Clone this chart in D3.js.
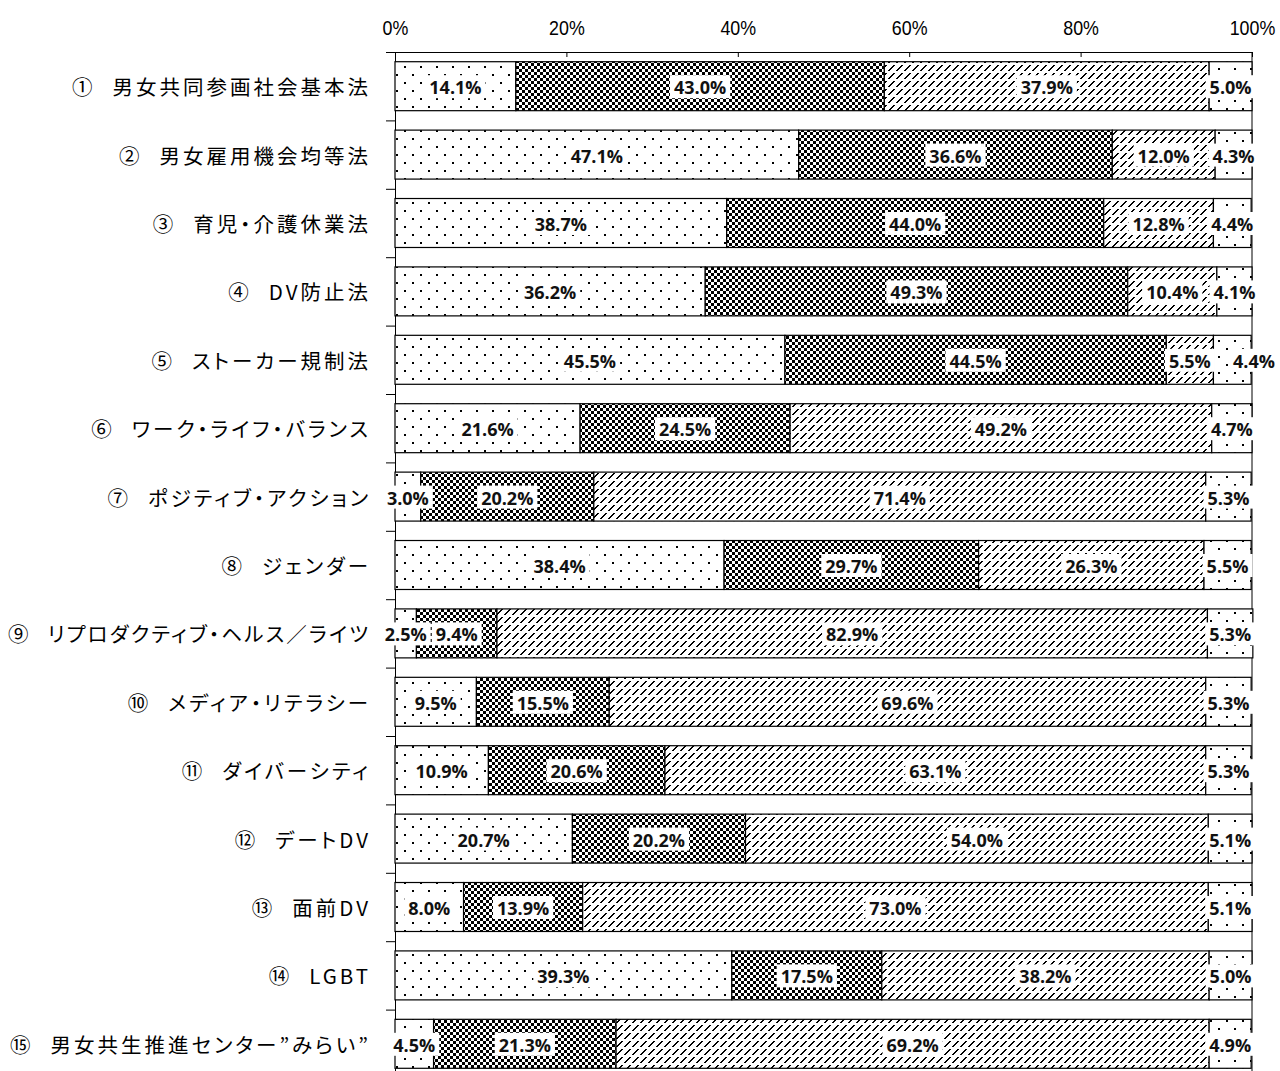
<!DOCTYPE html>
<html><head><meta charset="utf-8">
<script src="https://cdn.jsdelivr.net/npm/d3@7"></script>
<style>
html,body{margin:0;padding:0;background:#fff;}
#wrap{position:relative;width:1280px;height:1071px;overflow:hidden;}
svg{display:block;position:absolute;left:0;top:0;}
.cat{position:absolute;white-space:nowrap;font-family:"Noto Sans CJK JP",sans-serif;font-size:20.5px;line-height:26px;letter-spacing:3px;font-feature-settings:"palt" 1;color:#000;}
.cat .nm{margin-left:17px;}
.tick text{font-family:"Liberation Sans",Arial,sans-serif;font-size:21px;fill:#000;}
.lbl{font-family:"Open Sans",sans-serif;font-weight:700;font-size:18px;fill:#111;}
</style></head>
<body>
<div id="wrap"><svg id="c" width="1280" height="1071"></svg></div>
<script>
const nums = ["①","②","③","④","⑤","⑥","⑦","⑧","⑨","⑩","⑪","⑫","⑬","⑭","⑮"];
const categories = ["男女共同参画社会基本法","男女雇用機会均等法","育児・介護休業法","DV防止法","ストーカー規制法","ワーク・ライフ・バランス","ポジティブ・アクション","ジェンダー","リプロダクティブ・ヘルス／ライツ","メディア・リテラシー","ダイバーシティ","デートDV","面前DV","LGBT","男女共生推進センター”みらい”"];
const s1 = [14.1,47.1,38.7,36.2,45.5,21.6,3.0,38.4,2.5,9.5,10.9,20.7,8.0,39.3,4.5];
const s2 = [43.0,36.6,44.0,49.3,44.5,24.5,20.2,29.7,9.4,15.5,20.6,20.2,13.9,17.5,21.3];
const s3 = [37.9,12.0,12.8,10.4,5.5,49.2,71.4,26.3,82.9,69.6,63.1,54.0,73.0,38.2,69.2];
const s4 = [5.0,4.3,4.4,4.1,4.4,4.7,5.3,5.5,5.3,5.3,5.3,5.1,5.1,5.0,4.9];
const xTicks = [0,20,40,60,80,100];

const svg = d3.select("#c");
const defs = svg.append("defs");
function dots(id, size, pts){
  const p = defs.append("pattern").attr("id",id).attr("patternUnits","userSpaceOnUse").attr("width",size).attr("height",size);
  p.append("rect").attr("width",size).attr("height",size).attr("fill","#fff");
  pts.forEach(([a,b])=>p.append("rect").attr("x",a).attr("y",b).attr("width",2).attr("height",2).attr("fill","#000"));
}
dots("p1",16,[[4,2],[12,10]]);
dots("p4",16,[[2,4],[10,12]]);
{
  const p = defs.append("pattern").attr("id","p2").attr("patternUnits","userSpaceOnUse").attr("width",6).attr("height",6);
  p.append("rect").attr("width",6).attr("height",6).attr("fill","#fff");
  p.append("rect").attr("width",3).attr("height",3).attr("fill","#000");
  p.append("rect").attr("x",3).attr("y",3).attr("width",3).attr("height",3).attr("fill","#000");
}
{
  const p = defs.append("pattern").attr("id","p3").attr("patternUnits","userSpaceOnUse").attr("width",8).attr("height",8);
  p.append("rect").attr("width",8).attr("height",8).attr("fill","#fff");
  [[0,6],[1,5],[2,4],[3,3],[4,2],[5,1]].forEach(([a,b])=>p.append("rect").attr("x",a).attr("y",b).attr("width",2).attr("height",1).attr("fill","#000"));
}
const fills = ["url(#p1)","url(#p2)","url(#p3)","url(#p4)"];

const x = d3.scaleLinear().domain([0,100]).range([395,1252]);
const idx = d3.range(categories.length);
const y = d3.scaleBand().domain(idx).range([52,1078]).paddingInner(0.284).paddingOuter(0.142);
const yi = d3.scaleLinear().domain([0,categories.length]).range([52,1078]);

const ax = svg.append("g").attr("transform","translate(0,52)")
  .call(d3.axisTop(x).tickValues(xTicks).tickFormat(d=>d+"%").tickSizeInner(-5).tickSizeOuter(0).tickPadding(17));
ax.select(".domain").attr("stroke","#000");
ax.selectAll(".tick line").attr("stroke","#000");
ax.selectAll(".tick text").attr("transform","scale(0.85,1)");
const ay = svg.append("g").attr("transform","translate(395,0)")
  .call(d3.axisLeft(yi).tickValues(d3.range(categories.length+1)).tickFormat("").tickSizeInner(9).tickSizeOuter(0));
ay.select(".domain").attr("stroke","#000");
ay.selectAll(".tick line").attr("stroke","#000");
svg.append("line").attr("x1",x(100)).attr("x2",x(100)).attr("y1",52).attr("y2",1078).attr("stroke","#000");

const series = [s1,s2,s3,s4];
const rows = idx.map(i=>{ let c=0; return series.map((s,k)=>{ const d={i,k,v:s[i],x0:c,x1:c+s[i]}; c+=s[i]; return d;}); });

const g = svg.append("g");
rows.forEach(r=>{
  g.selectAll(null).data(r).enter().append("rect")
    .attr("x",d=>x(d.x0)).attr("width",d=>x(d.x1)-x(d.x0))
    .attr("y",d=>y(d.i)).attr("height",y.bandwidth())
    .attr("fill",d=>fills[d.k]).attr("stroke","#000").attr("stroke-width",1.2);
});

const wrap = d3.select("#wrap");
const rightEdge = 368, maxW = 360, baseLs = 3;
idx.forEach(i=>{
  const div = wrap.append("div").attr("class","cat");
  div.append("span").attr("class","no").text(nums[i]);
  div.append("span").attr("class","nm").text(categories[i]);
  const node = div.node();
  let ls = baseLs;
  let w = node.getBoundingClientRect().width;
  if (w - ls > maxW) {
    const n = (nums[i]+categories[i]).length;
    ls = Math.max(-2, ls - (w - ls - maxW)/(n-1));
    div.style("letter-spacing", ls+"px");
    w = node.getBoundingClientRect().width;
  }
  div.style("left",(rightEdge + ls - w)+"px").style("top",(y(i)+y.bandwidth()/2-13)+"px");
});

const lg = svg.append("g");
rows.forEach(r=>{
  let prevRight = -1e9;
  r.forEach((d,j)=>{
    const cy = y(d.i)+y.bandwidth()/2;
    let cx = (x(d.x0)+x(d.x1))/2;
    const gg = lg.append("g");
    const bg = gg.append("rect").attr("fill","#fff");
    const t = gg.append("text").attr("class","lbl").attr("text-anchor","middle").attr("dominant-baseline","central")
      .text(d.v.toFixed(1)+"%");
    const w = t.node().getComputedTextLength();
    if (j===r.length-1 && cx - w/2 - 4 < prevRight + 2) cx = x(100) + 2;
    t.attr("x",cx).attr("y",cy+1);
    bg.attr("x",cx-w/2-4).attr("width",w+8).attr("y",cy-11).attr("height",23);
    prevRight = cx + w/2 + 4;
  });
});
</script>
</body></html>
